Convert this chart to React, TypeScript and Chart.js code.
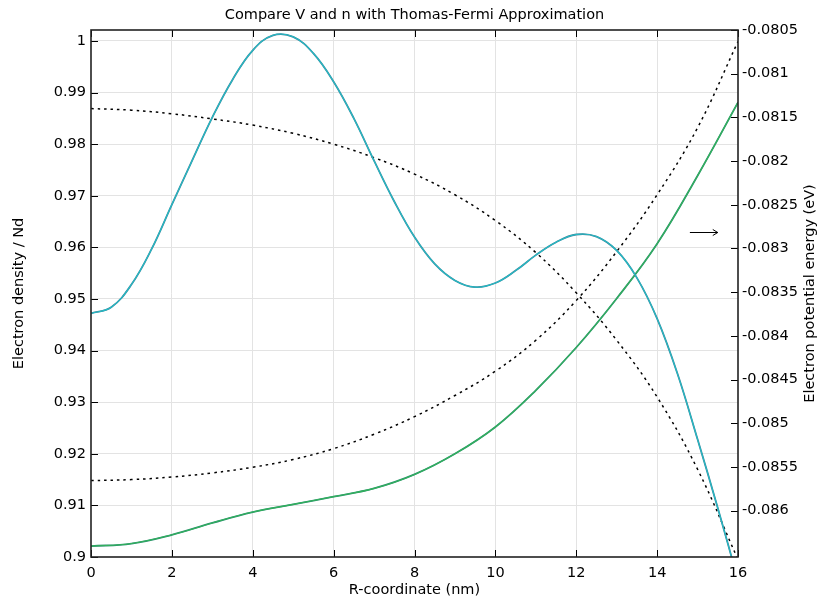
import React, { useEffect, useRef } from "react";
import { Chart, registerables } from "chart.js";

Chart.register(...registerables);

// ---- Data ----
const titleText = "Compare V and n with Thomas-Fermi Approximation";
const xAxisTitle = "R-coordinate (nm)";
const leftAxisTitle = "Electron density / Nd";
const rightAxisTitle = "Electron potential energy (eV)";

const xTicks = [0, 2, 4, 6, 8, 10, 12, 14, 16];
const densityTicks = [0.9, 0.91, 0.92, 0.93, 0.94, 0.95, 0.96, 0.97, 0.98, 0.99, 1.0];
const energyTicks = [-0.0805, -0.081, -0.0815, -0.082, -0.0825, -0.083, -0.0835, -0.084, -0.0845, -0.085, -0.0855, -0.086];

// electron density (solid, left axis)
const rDensity = [0, 0.5, 1, 1.5, 2, 2.5, 3, 3.5, 4, 4.5, 5, 5.5, 6, 6.5, 7, 7.5, 8, 8.5, 9, 9.5, 10, 10.5, 11, 11.5, 12, 12.5, 13, 13.5, 14, 14.5, 15, 15.5, 16];
const nDensity = [0.9472, 0.9484, 0.9528, 0.9597, 0.9683, 0.9768, 0.9852, 0.9925, 0.9982, 1.0011, 1.0008, 0.9976, 0.9921, 0.985, 0.9768, 0.9689, 0.962, 0.9568, 0.9536, 0.9523, 0.9531, 0.9555, 0.9585, 0.961, 0.9625, 0.9621, 0.9594, 0.9541, 0.9462, 0.9356, 0.9228, 0.9095, 0.8955];

// Thomas-Fermi quantities (dotted) and potential (solid green)
const rTF = [0, 1, 2, 3, 4, 5, 6, 7, 8, 9, 10, 11, 12, 13, 14, 15, 16];
const nTF = [0.9869, 0.9866, 0.9859, 0.9849, 0.9837, 0.9821, 0.98, 0.9774, 0.9742, 0.9702, 0.9652, 0.959, 0.9512, 0.942, 0.931, 0.917, 0.8995];
const vTF = [-0.085656, -0.085644, -0.085615, -0.085568, -0.085503, -0.085414, -0.08529, -0.085125, -0.084924, -0.084682, -0.084404, -0.08405, -0.083595, -0.083035, -0.082385, -0.081618, -0.080632];
const vPotential = [-0.086406, -0.086376, -0.086276, -0.08614, -0.086016, -0.085928, -0.085839, -0.085745, -0.085585, -0.085349, -0.085042, -0.084623, -0.084133, -0.083572, -0.082946, -0.082167, -0.081328];

// arrow marking the right-axis curve
const arrowX = [14.81, 15.5];
const arrowY = -0.08281;

const pts = (xs: number[], ys: number[]) => xs.map((x, i) => ({ x, y: ys[i] }));
const fmt = (v: number) => String(Number(v.toFixed(5)));

const FONT = "DejaVu Sans";
const FS = 14.5;

const decorPlugin = {
  id: "decor",
  afterDraw(chart: any) {
    const { ctx, chartArea, scales } = chart;
    const { left, right, top, bottom } = chartArea;
    const tl = 7;
    ctx.save();
    ctx.strokeStyle = "#000";
    ctx.lineWidth = 1;
    ctx.beginPath();
    for (const v of xTicks) {
      const px = Math.round(scales.x.getPixelForValue(v)) + 0.5;
      ctx.moveTo(px, bottom);
      ctx.lineTo(px, bottom - tl);
      ctx.moveTo(px, top);
      ctx.lineTo(px, top + tl);
    }
    for (const v of densityTicks) {
      const py = Math.round(scales.y.getPixelForValue(v)) + 0.5;
      ctx.moveTo(left, py);
      ctx.lineTo(left + tl, py);
    }
    for (const v of energyTicks) {
      const py = Math.round(scales.y2.getPixelForValue(v)) + 0.5;
      ctx.moveTo(right, py);
      ctx.lineTo(right - tl, py);
    }
    ctx.stroke();

    // frame
    ctx.lineWidth = 1.6;
    ctx.strokeStyle = "#222";
    ctx.strokeRect(left, top, right - left, bottom - top);

    // arrow
    const ax0 = scales.x.getPixelForValue(arrowX[0]);
    const ax1 = scales.x.getPixelForValue(arrowX[1]);
    const ay = Math.round(scales.y2.getPixelForValue(arrowY)) + 0.5;
    ctx.lineWidth = 1;
    ctx.strokeStyle = "#000";
    ctx.beginPath();
    ctx.moveTo(ax0, ay);
    ctx.lineTo(ax1, ay);
    ctx.moveTo(ax1 - 5, ay - 3);
    ctx.lineTo(ax1, ay);
    ctx.lineTo(ax1 - 5, ay + 3);
    ctx.stroke();

    // right axis title (reads bottom-to-top)
    ctx.fillStyle = "#000";
    ctx.font = `${FS}px "${FONT}"`;
    ctx.textAlign = "center";
    ctx.textBaseline = "middle";
    ctx.translate(chart.width - 9, (top + bottom) / 2);
    ctx.rotate(-Math.PI / 2);
    ctx.fillText(rightAxisTitle, 0, 0);
    ctx.restore();
  },
};

const lineBase = { pointRadius: 0, tension: 0.4, fill: false };

export default function App() {
  const ref = useRef<HTMLCanvasElement | null>(null);

  useEffect(() => {
    document.body.style.margin = "0";
    const canvas = ref.current;
    if (!canvas) return;
    const chart = new Chart(canvas, {
      type: "line",
      data: {
        datasets: [
          {
            ...lineBase,
            label: "n (top)",
            data: pts(rDensity, nDensity),
            yAxisID: "y",
            borderColor: "#22bdc6",
            borderWidth: 1.1,
            order: 1,
          },
          {
            ...lineBase,
            label: "n",
            data: pts(rDensity, nDensity),
            yAxisID: "y",
            borderColor: "#45849a",
            borderWidth: 1.8,
            order: 2,
          },
          {
            ...lineBase,
            label: "V (top)",
            data: pts(rTF, vPotential),
            yAxisID: "y2",
            borderColor: "#33b25c",
            borderWidth: 1.1,
            order: 3,
          },
          {
            ...lineBase,
            label: "V",
            data: pts(rTF, vPotential),
            yAxisID: "y2",
            borderColor: "#2a8f6e",
            borderWidth: 1.8,
            order: 4,
          },
          {
            ...lineBase,
            label: "n Thomas-Fermi",
            data: pts(rTF, nTF),
            yAxisID: "y",
            borderColor: "#000",
            borderWidth: 1.5,
            borderDash: [2.5, 4],
            order: 5,
          },
          {
            ...lineBase,
            label: "V Thomas-Fermi",
            data: pts(rTF, vTF),
            yAxisID: "y2",
            borderColor: "#000",
            borderWidth: 1.5,
            borderDash: [2.5, 4],
            order: 6,
          },
        ],
      },
      options: {
        animation: false,
        responsive: false,
        devicePixelRatio: 1,
        layout: { padding: 0 },
        plugins: {
          legend: { display: false },
          tooltip: { enabled: false },
          title: {
            display: true,
            fullSize: false,
            text: titleText,
            color: "#000",
            font: { family: FONT, size: FS, weight: "normal" },
            padding: { top: 6.5, bottom: 6.1 },
          },
        },
        scales: {
          x: {
            type: "linear",
            min: 0,
            max: 16,
            afterBuildTicks: (s: any) => {
              s.ticks = xTicks.map((value) => ({ value }));
            },
            afterFit: (s: any) => {
              s.height = 40;
            },
            ticks: {
              color: "#000",
              font: { family: FONT, size: FS },
              padding: 8,
              maxRotation: 0,
              callback: (v: any) => fmt(Number(v)),
            },
            grid: {
              color: (c: any) => (c.tick && (c.tick.value === 0 || c.tick.value === 16) ? "rgba(0,0,0,0)" : "#e3e3e3"),
              lineWidth: 1,
              drawTicks: false,
            },
            border: { display: false },
            title: {
              display: true,
              text: xAxisTitle,
              color: "#000",
              font: { family: FONT, size: FS },
              padding: { top: 0, bottom: -2 },
            },
          },
          y: {
            type: "linear",
            position: "left",
            min: 0.9,
            max: 1.00213,
            afterBuildTicks: (s: any) => {
              s.ticks = densityTicks.map((value) => ({ value }));
            },
            afterFit: (s: any) => {
              s.width = 91;
            },
            ticks: {
              color: "#000",
              font: { family: FONT, size: FS },
              padding: 5,
              callback: (v: any) => fmt(Number(v)),
            },
            grid: {
              color: (c: any) => (c.tick && c.tick.value === 0.9 ? "rgba(0,0,0,0)" : "#e3e3e3"),
              lineWidth: 1,
              drawTicks: false,
            },
            border: { display: false },
            title: {
              display: true,
              text: leftAxisTitle,
              color: "#000",
              font: { family: FONT, size: FS },
              padding: { top: 11, bottom: 0 },
            },
          },
          y2: {
            type: "linear",
            position: "right",
            min: -0.08653,
            max: -0.0805,
            afterBuildTicks: (s: any) => {
              s.ticks = energyTicks.map((value) => ({ value }));
            },
            afterFit: (s: any) => {
              s.width = 81;
            },
            ticks: {
              color: "#000",
              font: { family: FONT, size: FS },
              padding: 4,
              callback: (v: any) => fmt(Number(v)),
            },
            grid: { drawOnChartArea: false, drawTicks: false },
            border: { display: false },
            title: { display: false },
          },
        },
      },
      plugins: [decorPlugin],
    } as any);
    return () => chart.destroy();
  }, []);

  return (
    <div style={{ position: "absolute", left: 0, top: 0, width: 819, height: 597, background: "#fff" }}>
      <canvas ref={ref} width={819} height={597} style={{ display: "block" }} />
    </div>
  );
}
